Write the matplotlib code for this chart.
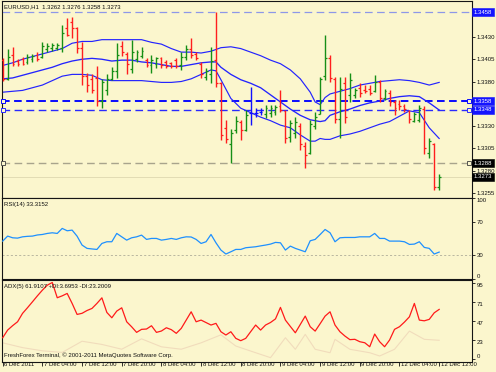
import numpy as np
import matplotlib
matplotlib.use("Agg")
import matplotlib.pyplot as plt
import matplotlib.transforms as mtransforms
from matplotlib import font_manager

# ---------------- data ----------------
opens = [1.3404, 1.3383, 1.3410, 1.3403, 1.3405, 1.3402, 1.3405, 1.3410, 1.3407, 1.3417,
         1.3418, 1.3418, 1.3418, 1.3440, 1.3447, 1.3440, 1.3418, 1.3386, 1.3383, 1.3384,
         1.3358, 1.3370, 1.3383, 1.3392, 1.3420, 1.3411, 1.3394, 1.3405, 1.3409, 1.3404,
         1.3398, 1.3400, 1.3406, 1.3402, 1.3401, 1.3404, 1.3398, 1.3407, 1.3416, 1.3411,
         1.3400, 1.3385, 1.3388, 1.3404, 1.3378, 1.3328, 1.3310, 1.3325, 1.3335, 1.3326,
         1.3345, 1.3345, 1.3346, 1.3343, 1.3345, 1.3346, 1.3352, 1.3347, 1.3318, 1.3322,
         1.3330, 1.3308, 1.3300, 1.3330, 1.3344, 1.3386, 1.3406, 1.3383, 1.3338, 1.3378,
         1.3365, 1.3365, 1.3373, 1.3371, 1.3372, 1.3369, 1.3380, 1.3362, 1.3367, 1.3357,
         1.3355, 1.3353, 1.3347, 1.3336, 1.3337, 1.3349, 1.3300, 1.3310, 1.3262]
highs = [1.3406, 1.3417, 1.3419, 1.3405, 1.3408, 1.3411, 1.3411, 1.3413, 1.3424, 1.3423,
         1.3423, 1.3423, 1.3444, 1.3451, 1.3452, 1.3441, 1.3424, 1.3390, 1.3388, 1.3397,
         1.3383, 1.3388, 1.3396, 1.3423, 1.3426, 1.3413, 1.3427, 1.3415, 1.3419, 1.3406,
         1.3410, 1.3408, 1.3408, 1.3404, 1.3402, 1.3406, 1.3413, 1.3421, 1.3429, 1.3413,
         1.3402, 1.3395, 1.3419, 1.3458, 1.3379, 1.3337, 1.3327, 1.3341, 1.3337, 1.3348,
         1.3374, 1.3350, 1.3350, 1.3354, 1.3354, 1.3354, 1.3370, 1.3348, 1.3337, 1.3340,
         1.3333, 1.3312, 1.3337, 1.3346, 1.3385, 1.3432, 1.3410, 1.3385, 1.3385, 1.3385,
         1.3389, 1.3373, 1.3378, 1.3376, 1.3376, 1.3387, 1.3382, 1.3372, 1.3370, 1.3359,
         1.3359, 1.3355, 1.3348, 1.3346, 1.3354, 1.3352, 1.3316, 1.3311, 1.3276]
lows = [1.3381, 1.3382, 1.3397, 1.3397, 1.3399, 1.3400, 1.3402, 1.3403, 1.3406, 1.3413,
        1.3414, 1.3415, 1.3413, 1.3431, 1.3429, 1.3412, 1.3376, 1.3368, 1.3367, 1.3352,
        1.3350, 1.3365, 1.3382, 1.3384, 1.3409, 1.3388, 1.3390, 1.3402, 1.3406, 1.3396,
        1.3390, 1.3395, 1.3395, 1.3395, 1.3395, 1.3395, 1.3393, 1.3404, 1.3406, 1.3404,
        1.3384, 1.3382, 1.3378, 1.3374, 1.3314, 1.3311, 1.3288, 1.3322, 1.3314, 1.3324,
        1.3331, 1.3340, 1.3342, 1.3339, 1.3340, 1.3342, 1.3346, 1.3311, 1.3312, 1.3317,
        1.3303, 1.3283, 1.3299, 1.3327, 1.3344, 1.3382, 1.3380, 1.3333, 1.3317, 1.3333,
        1.3357, 1.3361, 1.3363, 1.3367, 1.3365, 1.3368, 1.3357, 1.3359, 1.3352, 1.3342,
        1.3348, 1.3346, 1.3333, 1.3334, 1.3335, 1.3299, 1.3294, 1.3258, 1.3258]
closes = [1.3383, 1.3408, 1.3400, 1.3400, 1.3400, 1.3408, 1.3409, 1.3405, 1.3420, 1.3420,
          1.3421, 1.3421, 1.3435, 1.3432, 1.3440, 1.3418, 1.3386, 1.3376, 1.3370, 1.3358,
          1.3380, 1.3383, 1.3392, 1.3410, 1.3413, 1.3400, 1.3413, 1.3413, 1.3414, 1.3399,
          1.3404, 1.3406, 1.3399, 1.3397, 1.3397, 1.3397, 1.3408, 1.3416, 1.3410, 1.3406,
          1.3388, 1.3392, 1.3403, 1.3378, 1.3320, 1.3315, 1.3322, 1.3336, 1.3325, 1.3342,
          1.3345, 1.3345, 1.3346, 1.3350, 1.3350, 1.3351, 1.3348, 1.3317, 1.3333, 1.3334,
          1.3310, 1.3298, 1.3332, 1.3340, 1.3383, 1.3406, 1.3384, 1.3338, 1.3372, 1.3340,
          1.3382, 1.3370, 1.3367, 1.3369, 1.3367, 1.3380, 1.3362, 1.3369, 1.3357, 1.3350,
          1.3352, 1.3349, 1.3338, 1.3343, 1.3350, 1.3305, 1.3313, 1.3262, 1.3273]

band_idx = [0, 2, 4, 6, 8, 10, 12, 14, 16, 18, 20, 22, 24, 26, 28, 30, 32, 34, 36, 38, 40, 42, 43,
            44, 46, 48, 50, 52, 54, 56, 58, 60, 62, 63, 64, 65, 66, 68, 70, 72, 74, 76, 78, 80,
            82, 84, 86, 88]
bb_upper = [1.3398, 1.3401, 1.3405, 1.3408, 1.3411, 1.3414, 1.3417, 1.3423, 1.3425, 1.3425,
            1.3427, 1.3427, 1.3427, 1.3427, 1.3427, 1.3424, 1.3422, 1.3417, 1.3413, 1.3413,
            1.3412, 1.3414, 1.3416, 1.3418, 1.3419, 1.3417, 1.3413, 1.3409, 1.3404, 1.3400,
            1.3393, 1.3383, 1.3368, 1.3357, 1.3354, 1.3362, 1.3366, 1.3369, 1.3372, 1.3376,
            1.3378, 1.3380, 1.3381, 1.3382, 1.3381, 1.3379, 1.3376, 1.3379]
bb_middle = [1.3383, 1.3384, 1.3387, 1.3390, 1.3393, 1.3396, 1.3400, 1.3403, 1.3405, 1.3406,
             1.3405, 1.3403, 1.3404, 1.3404, 1.3402, 1.3401, 1.3399, 1.3397, 1.3397, 1.3399,
             1.3401, 1.3402, 1.3402, 1.3396, 1.3388, 1.3382, 1.3378, 1.3373, 1.3365, 1.3357,
             1.3349, 1.3342, 1.3337, 1.3336, 1.3335, 1.3336, 1.3342, 1.3346, 1.3349, 1.3353,
             1.3356, 1.3358, 1.3361, 1.3363, 1.3364, 1.3363, 1.3356, 1.3348]
bb_lower = [1.3368, 1.3369, 1.3370, 1.3373, 1.3376, 1.3381, 1.3386, 1.3388, 1.3388, 1.3387,
            1.3382, 1.3381, 1.3381, 1.3381, 1.3381, 1.3380, 1.3379, 1.3379, 1.3380, 1.3383,
            1.3388, 1.3393, 1.3392, 1.3382, 1.3361, 1.3350, 1.3345, 1.3340, 1.3336, 1.3331,
            1.3328, 1.3320, 1.3313, 1.3313, 1.3316, 1.3315, 1.3315, 1.3319, 1.3321, 1.3324,
            1.3328, 1.3332, 1.3335, 1.3341, 1.3347, 1.3345, 1.3328, 1.3316]

rsi = [46.9, 53.1, 51.0, 50.6, 52.2, 52.8, 53.1, 54.5, 55.1, 56.4,
       57.2, 56.4, 62.6, 59.7, 60.5, 53.0, 42.0, 37.9, 37.2, 36.6,
       44.0, 46.1, 46.1, 56.4, 52.2, 48.1, 51.0, 52.2, 54.3, 49.0,
       50.2, 50.2, 48.1, 49.0, 50.2, 49.0, 51.0, 52.2, 52.0, 49.0,
       44.0, 46.1, 55.1, 44.8, 35.8, 30.9, 33.7, 36.6, 36.6, 38.7,
       39.3, 39.9, 41.0, 42.0, 43.2, 45.3, 44.8, 35.8, 40.7, 37.9,
       35.8, 33.7, 47.3, 49.0, 55.0, 61.3, 57.2, 46.1, 51.0, 51.4,
       51.4, 51.4, 52.2, 52.2, 52.2, 56.4, 50.2, 50.2, 46.9, 46.9,
       46.9, 46.1, 42.8, 43.2, 46.1, 39.1, 37.9, 30.9, 33.3]

adx = [26.4, 36.0, 41.5, 46.4, 56.9, 64.0, 71.4, 78.9, 86.0, 92.3,
       95.6, 76.5, 78.9, 81.9, 69.4, 55.6, 57.0, 60.5, 63.1, 69.4,
       76.4, 58.1, 51.4, 59.8, 63.9, 46.4, 40.1, 33.1, 36.9, 37.3,
       41.4, 33.1, 34.8, 38.9, 36.5, 31.9, 38.1, 48.5, 58.9, 46.4,
       48.5, 45.4, 42.3, 44.4, 33.9, 29.8, 33.9, 25.6, 22.7, 25.6,
       34.0, 42.3, 36.0, 42.3, 45.5, 50.0, 64.4, 48.5, 40.5, 32.6,
       43.0, 53.5, 40.2, 34.7, 44.0, 53.5, 58.9, 42.3, 33.9, 28.5,
       24.0, 24.4, 21.4, 20.1, 15.1, 31.0, 21.4, 15.1, 23.5, 36.9,
       40.2, 46.0, 52.6, 69.4, 48.5, 47.6, 49.4, 57.6, 61.9]

di_idx = [0, 4, 8, 12, 16, 20, 24, 28, 32, 36, 40, 44, 47, 51, 54, 57, 59, 61, 63, 66,
          67, 70, 74, 76, 79, 82, 85, 88]
di_minus = [20, 14, 10, 8, 22, 18, 12, 25, 15, 12, 20, 30, 16, 7.6, 1.4, 26.4, 11.9, 30.6,
            11.9, 7.6, 24.4, 11.9, 7.6, 3.5, 11.9, 34.7, 24.4, 23.2]

time_idx = [0, 8, 16, 24, 32, 40, 48, 56, 64, 72, 80, 88]
time_labels = ["6 Dec 2011", "7 Dec 04:00", "7 Dec 12:00", "7 Dec 20:00", "8 Dec 04:00",
               "8 Dec 12:00", "8 Dec 20:00", "9 Dec 04:00", "9 Dec 12:00", "9 Dec 20:00",
               "12 Dec 04:00", "12 Dec 12:00"]
price_ticks = [1.3430, 1.3405, 1.3380, 1.3330, 1.3305, 1.3280, 1.3255]
blue_levels = [1.3458, 1.3358, 1.3348]
gray_level = 1.3288
bid_level = 1.3273
rsi_ticks = [0, 30, 70, 100]
adx_ticks = [0, 23, 47, 71, 95]

title_main = "EURUSD,H1  1.3262 1.3276 1.3258 1.3273"
title_rsi = "RSI(14) 33.3152"
title_adx = "ADX(5) 61.9107 +DI:3.6953 -DI:23.2009"
copyright_txt = "FreshForex Terminal, \u00a9 2001-2011 MetaQuotes Software Corp."

# ---------------- style ----------------
def pick_font():
    for name in ["Liberation Sans", "Arial"]:
        try:
            font_manager.findfont(name, fallback_to_default=False)
            return name
        except Exception:
            pass
    return "DejaVu Sans"

FONT = pick_font()
FS = 4.3
plt.rcParams["font.family"] = [FONT, "DejaVu Sans"]
plt.rcParams["font.size"] = FS
plt.rcParams["lines.scale_dashes"] = False

BG = "#fbf6cd"
TXT = "#101010"
W, H = 496, 372
fig = plt.figure(figsize=(W / 100, H / 100), dpi=100)
fig.patch.set_facecolor(BG)


def rect(x0, x1, ytop, ybot):
    return [x0 / W, 1 - ybot / H, (x1 - x0) / W, (ybot - ytop) / H]


ax1 = fig.add_axes(rect(1.5, 471.5, 0.5, 197.5))
ax2 = fig.add_axes(rect(1.5, 471.5, 198.2, 279.0), sharex=ax1)
ax3 = fig.add_axes(rect(1.5, 471.5, 280.0, 361.5), sharex=ax1)

for ax in (ax1, ax2, ax3):
    ax.set_facecolor(BG)
    for s in ax.spines.values():
        s.set_color("#151515")
        s.set_linewidth(0.8)
    ax.yaxis.tick_right()
    ax.tick_params(axis="y", which="both", length=1.8, width=0.6, pad=2.0,
                   colors=TXT, labelsize=FS)
    ax.tick_params(axis="x", which="both", length=0)

ax1.set_xlim(-0.24, 94.52)
ax1.set_ylim(1.32497, 1.34710)
ax2.set_ylim(0, 100)
ax3.set_ylim(-3.4, 98.75)

x = np.arange(len(opens))
o = np.array(opens); h = np.array(highs); l = np.array(lows); c = np.array(closes)
cols = np.where(c > o, "#168f16", np.where(c < o, "#ff1e1e", "#1010ff"))

# horizontal levels
yx = ax1.get_yaxis_transform()
ax1.axhline(bid_level, color="#e2dcb4", lw=0.7, zorder=1)
ax1.axhline(blue_levels[0], color="#8d97e8", lw=0.9, ls=(0, (5.5, 3.2)), zorder=1)
ax1.axhline(blue_levels[1], color="#0a0aff", lw=1.4, ls=(0, (5.5, 3.2)), zorder=1)
ax1.axhline(blue_levels[2], color="#2a2aff", lw=1.0, ls=(0, (5.5, 3.2)), zorder=1)
ax1.axhline(gray_level, color="#a8a48c", lw=1.0, ls=(0, (5.5, 3.2)), zorder=1)
for lev, ec in ((blue_levels[1], "#0a0aff"), (blue_levels[2], "#2a2aff"), (gray_level, "#555550")):
    ax1.plot([0.003, 0.9955], [lev, lev], transform=yx, ls="none", marker="s", ms=2.4,
             mfc=BG, mec=ec, mew=0.7, zorder=3, clip_on=False)

# bollinger bands
bcol = "#2323ff"
ax1.plot(band_idx, bb_upper, color=bcol, lw=0.85, zorder=2)
ax1.plot(band_idx, bb_middle, color=bcol, lw=0.95, zorder=2)
ax1.plot(band_idx, bb_lower, color=bcol, lw=0.85, zorder=2)

# OHLC bars
ax1.vlines(x, l, h, colors=cols, lw=1.0, zorder=4)
ax1.hlines(o, x - 0.38, x, colors=cols, lw=0.9, zorder=4)
ax1.hlines(c, x, x + 0.38, colors=cols, lw=0.9, zorder=4)

ax1.set_yticks(price_ticks)
ax1.set_yticklabels([f"{v:.4f}" for v in price_ticks])
ax1.tick_params(axis="x", labelbottom=False)

# boxed price labels
for lev in blue_levels:
    ax1.text(1.0052, lev, f"{lev:.4f}", transform=yx, ha="left", va="center", fontsize=FS,
             color="white", bbox=dict(boxstyle="square,pad=0.25", fc="#1414ff", ec="#1414ff", lw=0.4),
             clip_on=False, zorder=5)
for lev in (gray_level, bid_level):
    ax1.text(1.0052, lev, f"{lev:.4f}", transform=yx, ha="left", va="center", fontsize=FS,
             color="white", bbox=dict(boxstyle="square,pad=0.25", fc="#000000", ec="#000000", lw=0.4),
             clip_on=False, zorder=5)

# RSI panel
ax2.axhline(30, color="#b9b7a0", lw=0.7, ls=(0, (1.5, 1.5)), zorder=1)
ax2.plot(x, rsi, color="#1e90ff", lw=0.9, zorder=3)
ax2.set_yticks(rsi_ticks)
ax2.set_yticklabels([str(v) for v in rsi_ticks])
for lab, v in zip(ax2.get_yticklabels(), rsi_ticks):
    if v == 100:
        lab.set_va("top")
    elif v == 0:
        lab.set_va("bottom")
ax2.tick_params(axis="x", labelbottom=False)

# ADX panel
ax3.plot(di_idx, di_minus, color="#f1dcbc", lw=0.8, zorder=2)
ax3.plot(x, adx, color="#ff1a1a", lw=0.9, zorder=3)
ax3.set_yticks(adx_ticks)
ax3.set_yticklabels([str(v) for v in adx_ticks])
for lab, v in zip(ax3.get_yticklabels(), adx_ticks):
    lab.set_va("bottom" if v == 0 else "top")

ax3.set_xticks(time_idx)
ax3.set_xticklabels(time_labels)
ax3.tick_params(axis="x", length=2.6, width=0.6, direction="out", pad=-2.0,
                colors=TXT, labelsize=FS)
shift = mtransforms.ScaledTranslation(1.6 / 100, 0, fig.dpi_scale_trans)
for lab in ax3.get_xticklabels():
    lab.set_ha("left")
    lab.set_transform(lab.get_transform() + shift)

# titles
fig.text(4 / W, 1 - 6.5 / H, title_main, ha="left", va="center", fontsize=FS, color=TXT)
fig.text(4 / W, 1 - 205 / H, title_rsi, ha="left", va="center", fontsize=FS, color=TXT)
fig.text(4 / W, 1 - 286.5 / H, title_adx, ha="left", va="center", fontsize=FS, color=TXT)
fig.text(4 / W, 1 - 355.5 / H, copyright_txt, ha="left", va="center", fontsize=FS, color=TXT)

fig.savefig("out.png", dpi=100, facecolor=BG)
